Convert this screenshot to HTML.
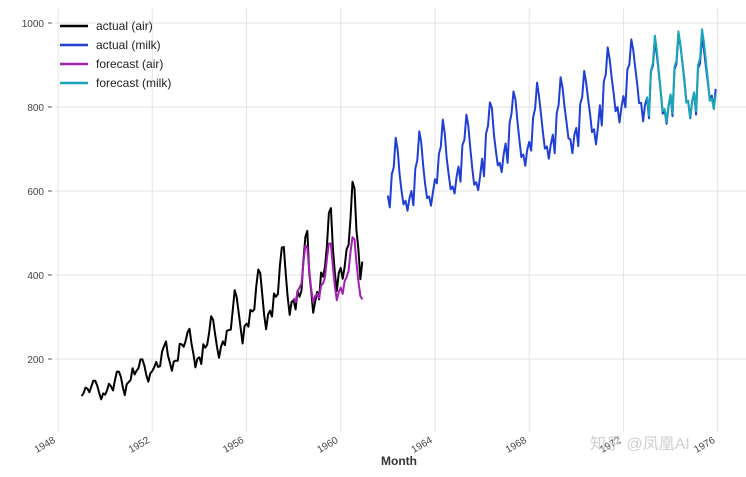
<!DOCTYPE html>
<html><head><meta charset="utf-8"><style>
body{margin:0;background:#fff;}
svg{display:block;font-family:"Liberation Sans","DejaVu Sans",sans-serif;}
</style></head><body>
<svg id="chart" width="746" height="477"></svg>
<script>
const airActual=[112,118,132,129,121,135,148,148,136,119,104,118,115,126,141,135,125,149,170,170,158,133,114,140,145,150,178,163,172,178,199,199,184,162,146,166,171,180,193,181,183,218,230,242,209,191,172,194,196,196,236,235,229,243,264,272,237,211,180,201,204,188,235,227,234,264,302,293,259,229,203,229,242,233,267,269,270,315,364,347,312,274,237,278,284,277,317,313,318,374,413,405,355,306,271,306,315,301,356,348,355,422,465,467,404,347,305,336,340,318,362,348,363,435,491,505,404,359,310,337,360,342,406,396,420,472,548,559,463,407,362,405,417,391,419,461,472,535,622,606,508,461,390,432];
const airStart=1949;
const milkActual=[589,561,640,656,727,697,640,599,568,577,553,582,600,566,653,673,742,716,660,617,583,587,565,598,628,618,688,705,770,736,678,639,604,611,594,634,658,622,709,722,782,756,702,653,615,621,602,635,677,635,736,755,811,798,735,697,661,667,645,688,713,667,762,784,837,817,767,722,681,687,660,698,717,696,775,796,858,826,783,740,701,706,677,711,734,690,785,805,871,845,801,764,725,723,690,734,750,707,807,824,886,859,819,783,740,747,711,751,804,756,860,878,942,913,869,834,790,800,763,800,826,799,890,900,961,935,894,855,809,810,766,805,821,773,883,898,957,924,881,837,784,791,760,802,828,778,889,902,969,947,908,867,815,812,773,813,834,782,892,903,966,937,896,858,817,827,797,843];
const milkStart=1962;
const airForecast=[345,335,360,370,380,430,470,465,410,365,335,350,355,345,375,380,395,440,475,475,420,375,340,360,370,355,385,395,410,455,490,485,430,385,350,342];
const airFcStart=1958;
const milkForecast=[825,780,885,905,970,935,885,840,790,795,765,805,830,785,895,910,980,950,905,860,810,815,775,815,835,790,900,915,985,955,910,865,815,820,795,830];
const milkFcStart=1973;
const yTicks=[200,400,600,800,1000];
const xTicks=[1948,1952,1956,1960,1964,1968,1972,1976];
const xTickLabels=["1948","1952","1956","1960","1964","1968","1972","1976"];

const NS="http://www.w3.org/2000/svg";
const svg=document.getElementById('chart');
const X=t=>58+(t-1948)*23.56;
const Y=v=>107-(v-800)*0.42;
function mk(tag,attrs,parent){const e=document.createElementNS(NS,tag);for(const k in attrs)e.setAttribute(k,attrs[k]);(parent||svg).appendChild(e);return e;}

const grid=mk('g',{});


yTicks.forEach(v=>{
  const l=mk('line',{x1:55,x2:746,y1:Y(v),y2:Y(v),stroke:'#e3e3e3','stroke-width':1},grid);
  
  
  const tk=mk('line',{x1:48,x2:52,y1:Y(v),y2:Y(v),stroke:'#555','stroke-width':1},grid);
  
  
  const t=mk('text',{x:44,y:Y(v)+4,'text-anchor':'end','font-size':10,fill:'#444'});
  t.textContent=v;
  
  
});
xTicks.forEach((yr,i)=>{
  const l=mk('line',{x1:X(yr),x2:X(yr),y1:8,y2:432,stroke:'#e3e3e3','stroke-width':1},grid);
  
  
  const tx=X(yr)-2, ty=442;
  const t=mk('text',{x:tx,y:ty,'text-anchor':'end','font-size':10,fill:'#444',transform:`rotate(-30 ${tx} ${ty})`});
  t.textContent=xTickLabels[i];
  
  
});

function series(vals,start,color,name){
  const pts=vals.map((v,i)=>X(start+i/12).toFixed(1)+','+Y(v).toFixed(1)).join(' ');
  const p=mk('polyline',{points:pts,fill:'none',stroke:color,'stroke-width':2,'stroke-linejoin':'round'});
  
  
}
series(airActual,airStart,'#000000','line-actual-air');
series(milkActual,milkStart,'#1f3fd6','line-actual-milk');
series(airForecast,airFcStart,'#a020b0','line-forecast-air');
series(milkForecast,milkFcStart,'#1aa6b7','line-forecast-milk');

const legend=mk('g',{});


[['actual (air)','#000000'],['actual (milk)','#1f3fd6'],['forecast (air)','#a020b0'],['forecast (milk)','#1aa6b7']].forEach((e,i)=>{
  const y=26+i*19;
  const l=mk('line',{x1:60,x2:88,y1:y,y2:y,stroke:e[1],'stroke-width':2.5},legend);
  
  
  const t=mk('text',{x:96,y:y+4,'font-size':12,fill:'#222'},legend);
  t.textContent=e[0];
  
  
});

const xl=mk('text',{x:399,y:465,'text-anchor':'middle','font-size':12,'font-weight':'bold',fill:'#333'});
xl.textContent='Month';


const wm=mk('text',{x:590,y:449,'font-size':16,fill:'#d0d0d0','font-family':'"Liberation Sans","Noto Sans CJK SC",sans-serif'});
wm.textContent='知乎 @凤凰AI';


</script>
</body></html>
